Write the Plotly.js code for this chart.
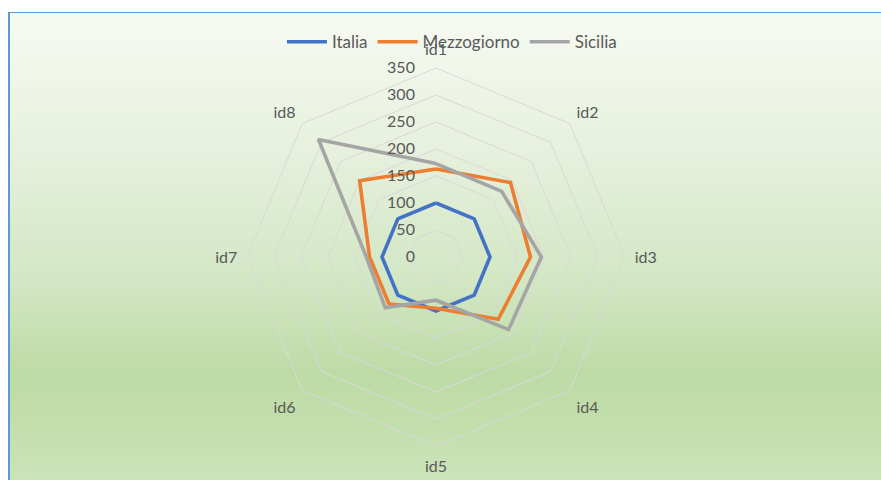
<!DOCTYPE html>
<html>
<head>
<meta charset="utf-8">
<script src="https://cdn.plot.ly/plotly-3.0.1.min.js"></script>
<style>
  html, body { margin: 0; padding: 0; background: #ffffff; }
  #wrap { position: relative; width: 881px; height: 480px; overflow: hidden; }
  #frame {
    position: absolute; left: 8px; top: 12px; width: 900px; height: 480px;
    border-left: 2px solid #5b9bd5; border-top: 1.5px solid #5b9bd5;
    background: linear-gradient(to bottom, #f7faf3 0%, #e6f0dc 30%, #d3e7c5 55%, #bddba6 75%, #c2deac 85%, #cde4bd 100%);
  }
  #chart { position: absolute; left: 0; top: 0; width: 881px; height: 480px; }
</style>
</head>
<body>
<div id="wrap">
  <div id="frame"></div>
  <div id="chart"></div>
</div>
<script>
// Indicators on the spokes, clockwise from the top
const categories = ["id1", "id2", "id3", "id4", "id5", "id6", "id7", "id8"];

// Index values per area (Italia = 100)
const italia      = [100, 100, 100, 100, 100, 100, 100, 100];
const mezzogiorno = [163, 195, 175, 163,  95, 123, 123, 200];
const sicilia     = [173, 172, 195, 190,  80, 133, 129, 308];

const radialTicks = [0, 50, 100, 150, 200, 250, 300, 350];

const seriesNames  = ["Italia", "Mezzogiorno", "Sicilia"];
const seriesValues = [italia, mezzogiorno, sicilia];
const seriesColors = ["#4472C4", "#ED7D31", "#A5A5A5"];

// close each polygon by repeating the first point
const closed = arr => arr.concat([arr[0]]);

const traces = seriesNames.map((name, i) => ({
  type: "scatterpolar",
  mode: "lines",
  name: name,
  r: closed(seriesValues[i]),
  theta: closed(categories),
  line: { color: seriesColors[i], width: 3.6, shape: "linear" },
  hoverinfo: "name+r+theta"
}));

const textColor = "#595959";
const fontFamily = "Lato, 'Open Sans', 'Liberation Sans', sans-serif";

const layout = {
  width: 881,
  height: 480,
  margin: { l: 0, r: 0, t: 0, b: 0 },
  paper_bgcolor: "rgba(0,0,0,0)",
  plot_bgcolor: "rgba(0,0,0,0)",
  font: { family: fontFamily, color: textColor },
  showlegend: true,
  legend: {
    orientation: "h",
    x: 0.513, xanchor: "center",
    y: 0.912, yanchor: "middle",
    bgcolor: "rgba(0,0,0,0)",
    font: { size: 17, color: textColor, family: fontFamily },
    itemwidth: 40,
    tracegroupgap: 0
  },
  polar: {
    domain: { x: [0.2804, 0.7094], y: [0.0708, 0.8583] },
    bgcolor: "rgba(0,0,0,0)",
    gridshape: "linear",
    radialaxis: {
      range: [0, 350],
      tickvals: radialTicks,
      ticktext: radialTicks.map(String),
      showline: false,
      showgrid: true,
      gridcolor: "#d9d9d9",
      gridwidth: 1,
      ticks: "outside",
      ticklen: 15,
      tickcolor: "rgba(0,0,0,0)",
      tickfont: { size: 16, color: textColor, family: fontFamily },
      angle: 90,
      tickangle: 90,
      side: "counterclockwise"
    },
    angularaxis: {
      rotation: 90,
      direction: "clockwise",
      categoryorder: "array",
      categoryarray: categories,
      showgrid: false,
      showline: true,
      linecolor: "#d9d9d9",
      linewidth: 1,
      ticks: "outside",
      ticklen: 6,
      tickcolor: "rgba(0,0,0,0)",
      tickfont: { size: 16, color: textColor, family: fontFamily }
    }
  }
};

Plotly.newPlot("chart", traces, layout, { displayModeBar: false, staticPlot: true });
</script>
</body>
</html>
